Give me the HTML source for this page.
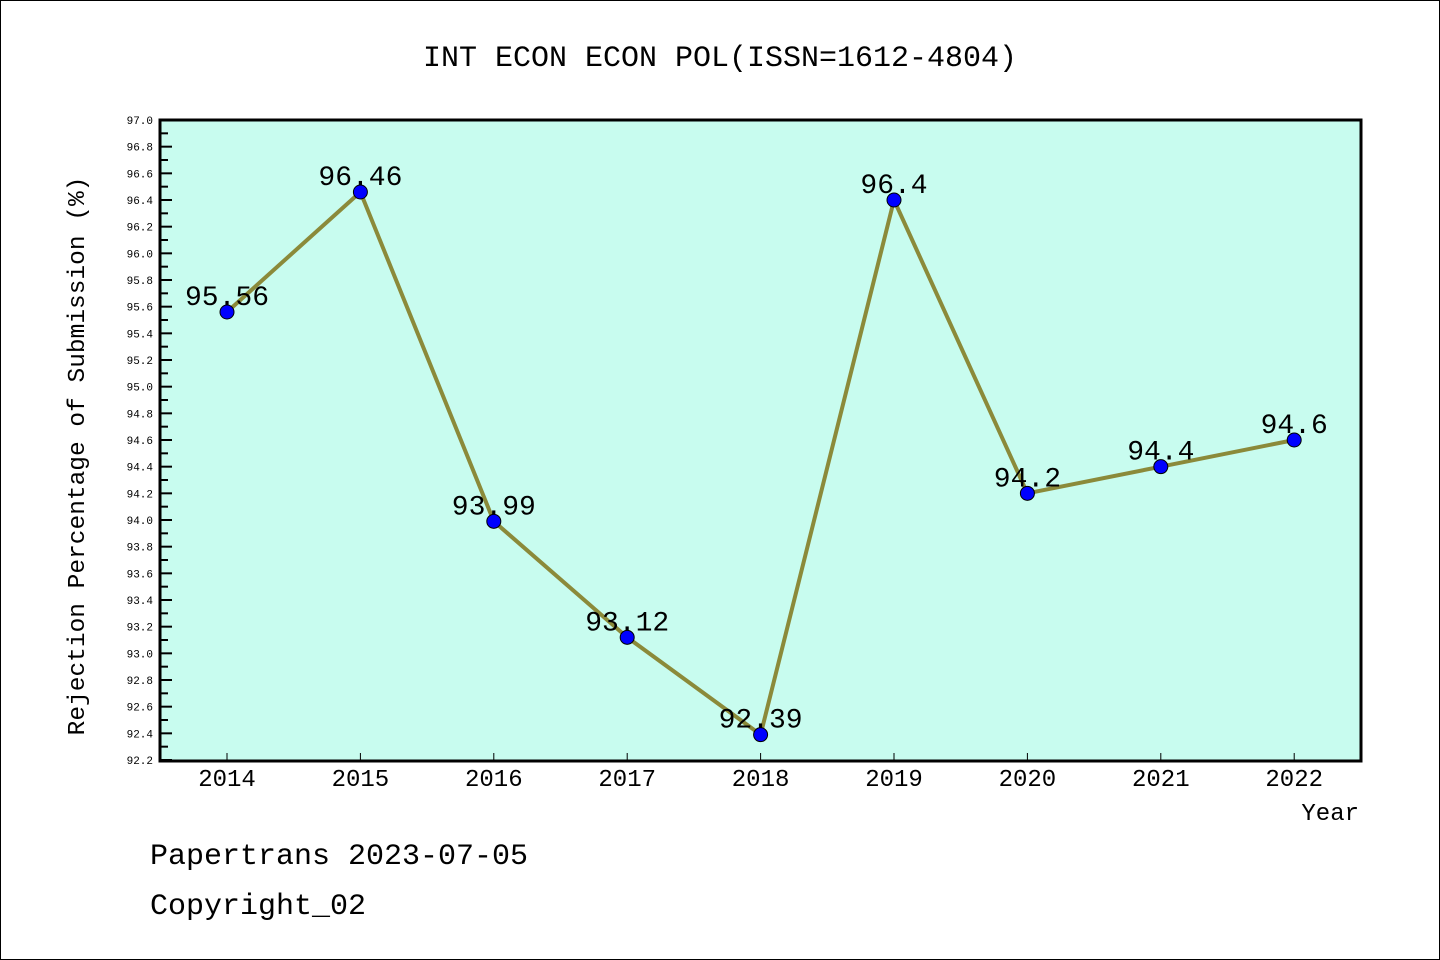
<!DOCTYPE html>
<html><head><meta charset="utf-8"><style>
html,body{margin:0;padding:0;background:#fff}
svg{display:block}
text{font-family:"Liberation Mono","DejaVu Sans Mono",monospace}
</style></head><body>
<svg id="chart" width="1440" height="960" xmlns="http://www.w3.org/2000/svg">
<rect x="0.5" y="0.5" width="1439" height="959" fill="#fff" stroke="#000" stroke-width="1"/>
<text x="720" y="66" text-anchor="middle" font-size="30">INT ECON ECON POL(ISSN=1612-4804)</text>
<rect x="160" y="120" width="1201" height="641" fill="#c8fcef"/>
<g id="yaxis"></g>
<g id="xaxis"></g>
<g id="series"></g>
<rect x="160" y="120" width="1201" height="641" fill="none" stroke="#000" stroke-width="3"/>
<text transform="translate(84,456) rotate(-90)" text-anchor="middle" font-size="24.5">Rejection Percentage of Submission (%)</text>
<text x="1359" y="820" text-anchor="end" font-size="24">Year</text>
<text x="150" y="864" font-size="30">Papertrans 2023-07-05</text>
<text x="150" y="914" font-size="30">Copyright_02</text>
</svg>
<script>
const years = ["2014","2015","2016","2017","2018","2019","2020","2021","2022"];
const values = [95.56,96.46,93.99,93.12,92.39,96.4,94.2,94.4,94.6];
const valueLabels = ["95.56","96.46","93.99","93.12","92.39","96.4","94.2","94.4","94.6"];
const yMin = 92.2, yMax = 97.0;
const NS="http://www.w3.org/2000/svg";
function y(v){return 760-(v-yMin)/(yMax-yMin)*640;}
function x(i){return 227+i*133.4;}
function mk(tag,attrs,parent){const e=document.createElementNS(NS,tag);for(const k in attrs)e.setAttribute(k,attrs[k]);parent.appendChild(e);return e;}
const ya=document.getElementById('yaxis'),xa=document.getElementById('xaxis'),sg=document.getElementById('series');
for(let k=0;k<=48;k++){
  const v=yMin+k*0.1, yy=y(v), major=k%2===0;
  const t=mk('line',{x1:160,x2:160+(major?12:8),y1:yy,y2:yy,stroke:'#000','stroke-width':2},ya);
  
  
  if(major){
    const l=mk('text',{x:153,y:yy+4,'text-anchor':'end','font-size':11,'font-family':'Liberation Sans, sans-serif'},ya);
    l.textContent=v.toFixed(1);
    
    
  }
}
years.forEach((yr,i)=>{
  const t=mk('line',{x1:x(i),x2:x(i),y1:760,y2:753,stroke:'#000','stroke-width':1},xa);
  
  
  const l=mk('text',{x:x(i),y:786,'text-anchor':'middle','font-size':24,'font-family':'Liberation Sans, sans-serif'},xa);
  l.textContent=yr;
  
  
});
const pl=mk('polyline',{points:values.map((v,i)=>x(i)+','+y(v)).join(' '),fill:'none',stroke:'#8b8a3a','stroke-width':4,'stroke-linejoin':'round'},sg);


values.forEach((v,i)=>{
  const c=mk('circle',{cx:x(i),cy:y(v),r:7,fill:'#0000ff',stroke:'#000','stroke-width':1},sg);
  
  
  const l=mk('text',{x:x(i),y:y(v)-7,'text-anchor':'middle','font-size':28},sg);
  l.textContent=valueLabels[i];
  
  
});
</script>
</body></html>
